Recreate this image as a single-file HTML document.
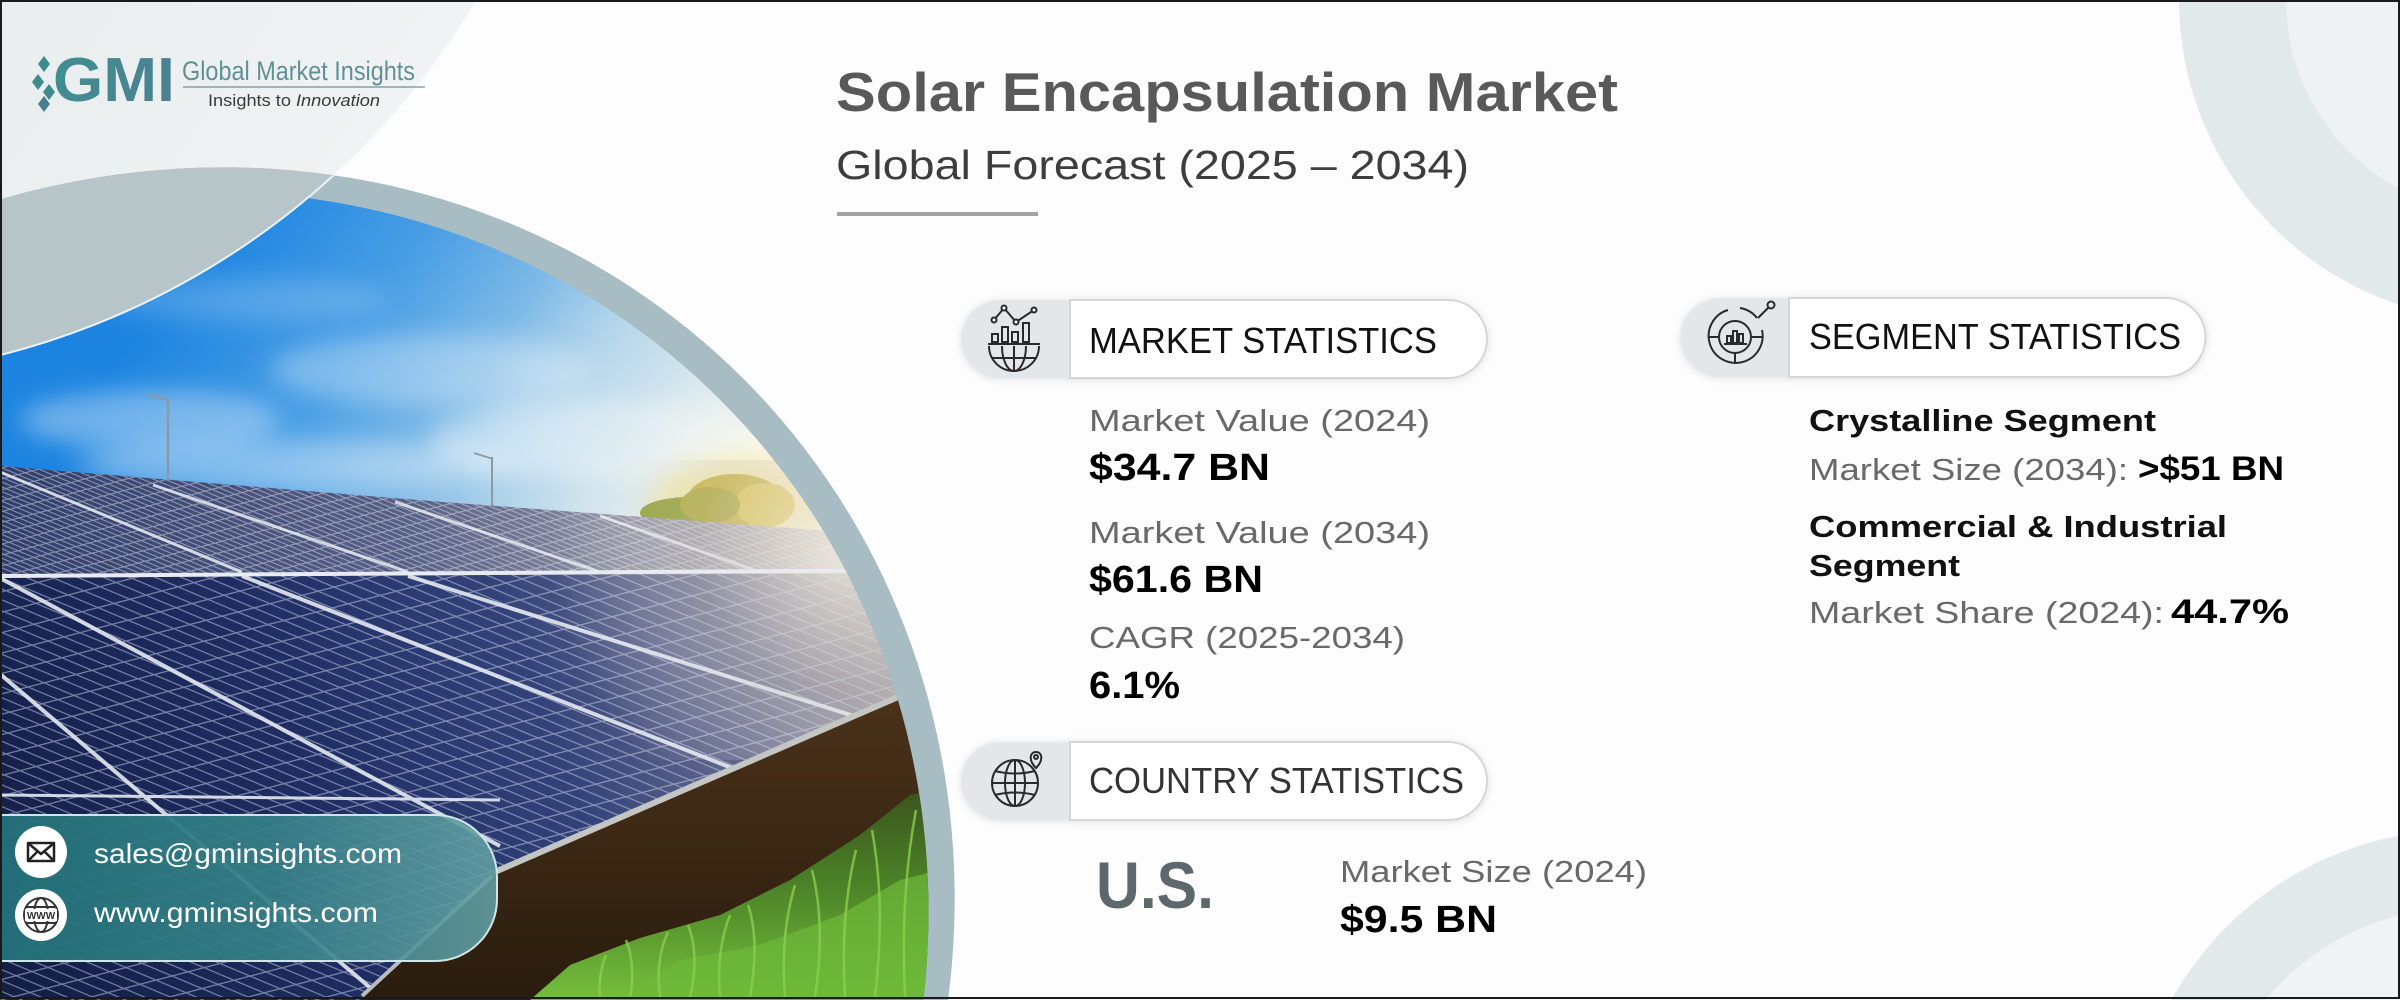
<!DOCTYPE html>
<html>
<head>
<meta charset="utf-8">
<style>
html,body{margin:0;padding:0;background:#fff;width:2400px;height:1000px;overflow:hidden;}
svg{display:block;overflow:hidden;}
</style>
</head>
<body>
<svg width="2400" height="1000" viewBox="0 0 2400 1000" xmlns="http://www.w3.org/2000/svg" font-family="'Liberation Sans', Arial, sans-serif">
<defs>
  <clipPath id="cOuter"><ellipse cx="172" cy="950" rx="808" ry="756.5" transform="rotate(-45 172 950)"/></clipPath>
  <clipPath id="cInner"><ellipse cx="158" cy="962" rx="795" ry="745" transform="rotate(-45 158 962)"/></clipPath>
  <clipPath id="cTL"><circle cx="-191" cy="-398" r="777"/></clipPath>
  <clipPath id="cTR1"><circle cx="2500" cy="0" r="321"/></clipPath>
  <clipPath id="cTR2"><circle cx="2500" cy="0" r="214"/></clipPath>
  <clipPath id="cBR1"><circle cx="2460" cy="1160" r="330"/></clipPath>
  <clipPath id="cBR2"><circle cx="2460" cy="1160" r="252"/></clipPath>
  <clipPath id="cFar"><polygon points="0,466 430,501 830,531 960,543 960,573 0,577"/></clipPath>
  <clipPath id="cNear"><polygon points="0,577 960,573 960,690 905,694 497,871 360,1000 0,1000"/></clipPath>
  <linearGradient id="gSky" gradientUnits="userSpaceOnUse" x1="250" y1="170" x2="760" y2="520">
    <stop offset="0" stop-color="#1c84e0"/>
    <stop offset="0.3" stop-color="#4a9fe5"/>
    <stop offset="0.62" stop-color="#a2cce8"/>
    <stop offset="1" stop-color="#eef2ee"/>
  </linearGradient>
  <radialGradient id="gSun" gradientUnits="userSpaceOnUse" cx="835" cy="525" r="380">
    <stop offset="0" stop-color="#fffdf0" stop-opacity="1"/>
    <stop offset="0.25" stop-color="#fbf8ea" stop-opacity="0.9"/>
    <stop offset="0.6" stop-color="#eef3f2" stop-opacity="0.35"/>
    <stop offset="1" stop-color="#ffffff" stop-opacity="0"/>
  </radialGradient>
  <radialGradient id="gGlare" gradientUnits="userSpaceOnUse" cx="850" cy="545" r="300">
    <stop offset="0" stop-color="#f3eee2" stop-opacity="0.85"/>
    <stop offset="0.5" stop-color="#d9d3cc" stop-opacity="0.35"/>
    <stop offset="1" stop-color="#ffffff" stop-opacity="0"/>
  </radialGradient>
  <linearGradient id="gNear" gradientUnits="userSpaceOnUse" x1="0" y1="900" x2="900" y2="560">
    <stop offset="0" stop-color="#141f48"/>
    <stop offset="0.35" stop-color="#1f2d63"/>
    <stop offset="0.6" stop-color="#33437a"/>
    <stop offset="0.8" stop-color="#6c6f8e"/>
    <stop offset="1" stop-color="#b3aaa6"/>
  </linearGradient>
  <linearGradient id="gFar" gradientUnits="userSpaceOnUse" x1="0" y1="0" x2="900" y2="0">
    <stop offset="0" stop-color="#2f3d6b"/>
    <stop offset="0.45" stop-color="#565f86"/>
    <stop offset="0.8" stop-color="#a19ea6"/>
    <stop offset="1" stop-color="#d6ccbc"/>
  </linearGradient>
  <linearGradient id="gGround" gradientUnits="userSpaceOnUse" x1="0" y1="700" x2="0" y2="1000">
    <stop offset="0" stop-color="#4a3219"/>
    <stop offset="1" stop-color="#2a1c0e"/>
  </linearGradient>
  <linearGradient id="gGrass" gradientUnits="userSpaceOnUse" x1="0" y1="780" x2="0" y2="1000">
    <stop offset="0" stop-color="#3a4f1c"/>
    <stop offset="0.45" stop-color="#4a7f26"/>
    <stop offset="1" stop-color="#74bf3c"/>
  </linearGradient>
  <linearGradient id="gBox" gradientUnits="userSpaceOnUse" x1="0" y1="0" x2="497" y2="0">
    <stop offset="0" stop-color="#226f78" stop-opacity="0.97"/>
    <stop offset="0.55" stop-color="#357f87" stop-opacity="0.93"/>
    <stop offset="1" stop-color="#63a0a4" stop-opacity="0.88"/>
  </linearGradient>
  <linearGradient id="gTL" gradientUnits="userSpaceOnUse" x1="0" y1="0" x2="450" y2="300">
    <stop offset="0" stop-color="#e9edee"/>
    <stop offset="1" stop-color="#f3f5f5"/>
  </linearGradient>
  <linearGradient id="gGMI" gradientUnits="userSpaceOnUse" x1="50" y1="55" x2="180" y2="105">
    <stop offset="0" stop-color="#3f8f91"/>
    <stop offset="1" stop-color="#4d7f92"/>
  </linearGradient>
  <pattern id="pNear" width="30" height="16" patternUnits="userSpaceOnUse" patternTransform="matrix(1,0.42,-1,0.26,0,0)">
    <path d="M0,1 H30 M1,0 V16" stroke="#cdd6ee" stroke-width="2" fill="none"/>
  </pattern>
  <pattern id="pFar" width="16" height="7" patternUnits="userSpaceOnUse" patternTransform="matrix(1,0.42,-1,0.26,0,0)">
    <path d="M0,0.8 H16 M0.8,0 V7" stroke="#e4e8f2" stroke-width="1.6" fill="none"/>
  </pattern>
  <filter id="blur12" x="-50%" y="-50%" width="200%" height="200%"><feGaussianBlur stdDeviation="12"/></filter>
  <filter id="sh" x="-10%" y="-40%" width="120%" height="180%"><feDropShadow dx="0" dy="1" stdDeviation="4" flood-color="#000" flood-opacity="0.12"/></filter>
</defs>

<!-- background -->
<rect x="0" y="0" width="2400" height="1000" fill="#fdfdfd"/>
<rect x="0" y="0" width="600" height="400" fill="url(#gTL)" clip-path="url(#cTL)"/>

<!-- right decorative rings -->
<rect x="2150" y="0" width="250" height="330" fill="#e2e9eb" clip-path="url(#cTR1)"/>
<rect x="2250" y="0" width="150" height="220" fill="#eef2f3" clip-path="url(#cTR2)"/>
<rect x="2100" y="800" width="300" height="200" fill="#e2e9eb" clip-path="url(#cBR1)"/>
<rect x="2180" y="880" width="220" height="120" fill="#f1f4f5" clip-path="url(#cBR2)"/>

<!-- photo ring -->
<rect x="0" y="100" width="1000" height="900" fill="#a7bdc3" clip-path="url(#cOuter)"/>

<!-- photo -->
<g clip-path="url(#cInner)">
  <rect x="0" y="150" width="980" height="430" fill="url(#gSky)"/>
  <g filter="url(#blur12)" fill="#ffffff">
    <ellipse cx="150" cy="420" rx="130" ry="30" opacity="0.35"/>
    <ellipse cx="430" cy="370" rx="160" ry="35" opacity="0.3"/>
    <ellipse cx="600" cy="440" rx="170" ry="40" opacity="0.4"/>
    <ellipse cx="300" cy="465" rx="220" ry="25" opacity="0.35"/>
    <ellipse cx="250" cy="300" rx="140" ry="22" opacity="0.18"/>
  </g>
  <rect x="0" y="150" width="980" height="430" fill="url(#gSun)"/>
  <!-- lamps -->
  <g stroke="#8d9aa6" fill="none">
    <line x1="168" y1="398" x2="168" y2="484" stroke-width="2.5"/>
    <line x1="148" y1="394" x2="169" y2="401" stroke-width="2"/>
    <line x1="492" y1="457" x2="492" y2="508" stroke-width="2"/>
    <line x1="474" y1="453" x2="493" y2="459" stroke-width="1.8"/>
  </g>
  <!-- tree -->
  <ellipse cx="740" cy="505" rx="90" ry="45" fill="#f6e270" opacity="0.55" filter="url(#blur12)"/>
  <ellipse cx="690" cy="513" rx="50" ry="16" fill="#8c9a2a"/>
  <ellipse cx="735" cy="500" rx="48" ry="26" fill="#c6b233"/>
  <ellipse cx="765" cy="505" rx="30" ry="22" fill="#dcc640"/>
  <ellipse cx="710" cy="505" rx="30" ry="18" fill="#a9a52e"/>

  <!-- far panel row -->
  <g clip-path="url(#cFar)">
    <rect x="0" y="460" width="980" height="120" fill="url(#gFar)"/>
    <rect x="0" y="460" width="980" height="120" fill="url(#pFar)" opacity="0.5"/>
    <g stroke="#e9ecf2" stroke-width="3" opacity="0.85">
      <line x1="0" y1="472" x2="242" y2="572"/>
      <line x1="153" y1="485" x2="408" y2="572"/>
      <line x1="395" y1="502" x2="600" y2="572"/>
      <line x1="600" y1="516" x2="760" y2="572"/>
    </g>
  </g>
  <!-- near panel row -->
  <g clip-path="url(#cNear)">
    <rect x="0" y="560" width="980" height="440" fill="url(#gNear)"/>
    <rect x="0" y="560" width="980" height="440" fill="url(#pNear)" opacity="0.5"/>
    <g stroke="#e6eaf2" stroke-width="4" opacity="0.9">
      <line x1="0" y1="578" x2="500" y2="846"/>
      <line x1="242" y1="576" x2="732" y2="768"/>
      <line x1="408" y1="576" x2="854" y2="716"/>
      <line x1="0" y1="674" x2="380" y2="996"/>
      <line x1="0" y1="795" x2="500" y2="800" stroke-width="3"/>
    </g>
  </g>
  <rect x="0" y="460" width="980" height="300" fill="url(#gGlare)"/>
  <!-- divider -->
  <line x1="0" y1="576" x2="960" y2="570" stroke="#e8ebf0" stroke-width="4"/>
  <!-- ground -->
  <polygon points="497,871 905,694 980,690 980,1000 360,1000" fill="url(#gGround)"/>
  <polygon points="530,1000 570,965 640,938 720,915 790,880 860,835 910,795 980,780 980,1000" fill="url(#gGrass)"/>
  <polygon points="620,1000 680,960 760,945 840,915 900,880 980,860 980,1000" fill="#6cb83a" opacity="0.75"/>
  <g stroke="#8bcf4e" stroke-width="2.5" fill="none" opacity="0.8">
    <path d="M600,997 Q598,975 606,955"/>
    <path d="M630,997 Q636,965 626,940"/>
    <path d="M660,997 Q655,960 668,932"/>
    <path d="M690,997 Q700,955 688,925"/>
    <path d="M720,997 Q716,950 730,915"/>
    <path d="M750,997 Q760,940 748,905"/>
    <path d="M785,997 Q780,935 795,885"/>
    <path d="M815,997 Q826,925 812,870"/>
    <path d="M845,997 Q840,915 856,850"/>
    <path d="M875,997 Q886,905 872,830"/>
    <path d="M905,997 Q900,895 916,810"/>
    <path d="M930,997 Q938,885 926,795"/>
  </g>
  <!-- panel front frame -->
  <line x1="497" y1="871" x2="905" y2="694" stroke="#c3c6c2" stroke-width="6"/>
  <line x1="492" y1="876" x2="362" y2="996" stroke="#b9bdc0" stroke-width="4"/>
</g>

<!-- crescent -->
<g clip-path="url(#cOuter)">
  <rect x="0" y="100" width="600" height="300" fill="#b7c4c8" clip-path="url(#cTL)"/>
</g>
<g clip-path="url(#cOuter)">
  <circle cx="-191" cy="-398" r="777" fill="none" stroke="#e6f3fa" stroke-width="2"/>
</g>

<!-- contact box -->
<path d="M0,815 H435 A62,62 0 0 1 497,877 V899 A62,62 0 0 1 435,961 H0 Z" fill="url(#gBox)" stroke="#cfe5e7" stroke-width="2"/>
<circle cx="41" cy="852" r="26" fill="#ffffff"/>
<g stroke="#222" stroke-width="2.5" fill="none" stroke-linejoin="round">
  <rect x="28" y="843" width="26" height="18"/>
  <polyline points="28,843 41,854 54,843"/>
  <line x1="28" y1="861" x2="37" y2="852"/>
  <line x1="54" y1="861" x2="45" y2="852"/>
</g>
<circle cx="41" cy="915" r="26" fill="#ffffff"/>
<g stroke="#333" stroke-width="2" fill="none">
  <circle cx="41" cy="915" r="17"/>
  <ellipse cx="41" cy="915" rx="7" ry="17"/>
  <line x1="26" y1="907" x2="56" y2="907"/>
  <line x1="26" y1="923" x2="56" y2="923"/>
</g>
<rect x="25" y="909" width="32" height="12" fill="#fff"/>
<text x="41" y="919" font-size="10" font-weight="bold" text-anchor="middle" fill="#333">WWW</text>
<text x="94" y="863" font-size="28" fill="#ffffff" textLength="308" lengthAdjust="spacingAndGlyphs">sales@gminsights.com</text>
<text x="94" y="922" font-size="28" fill="#ffffff" textLength="284" lengthAdjust="spacingAndGlyphs">www.gminsights.com</text>

<!-- logo -->
<g fill="#3e8b8e">
  <polygon points="44,56 50,64 44,72 38,64"/>
  <polygon points="38,74 44,82 38,90 32,82"/>
  <polygon points="49,84 55,92 49,100 43,92"/>
  <polygon points="44,96 50,104 44,112 38,104" fill="#4a7e8e"/>
</g>
<text x="53" y="101" font-size="62" font-weight="bold" fill="url(#gGMI)" textLength="122" lengthAdjust="spacingAndGlyphs">GMI</text>
<text x="182" y="80" font-size="27" fill="#5f9097" textLength="233" lengthAdjust="spacingAndGlyphs">Global Market Insights</text>
<line x1="183" y1="87" x2="425" y2="87" stroke="#7fa3a8" stroke-width="1.5"/>
<text x="208" y="106" font-size="17" fill="#3a3a3a" textLength="172" lengthAdjust="spacingAndGlyphs">Insights to <tspan font-style="italic">Innovation</tspan></text>

<!-- title -->
<text x="836" y="111" font-size="55" font-weight="bold" fill="#595959" textLength="782" lengthAdjust="spacingAndGlyphs">Solar Encapsulation Market</text>
<text x="836" y="179" font-size="41" fill="#3d3d3d" textLength="633" lengthAdjust="spacingAndGlyphs">Global Forecast (2025 – 2034)</text>
<rect x="837" y="212" width="201" height="4" fill="#a3a3a3"/>

<!-- MARKET STATISTICS pill -->
<g filter="url(#sh)">
  <path d="M1070,300 H1000 A39,39 0 0 0 1000,378 H1070 Z" fill="#e3e7e9"/>
  <path d="M1070,300 H1448 A39,39 0 0 1 1448,378 H1070 Z" fill="#ffffff" stroke="#d6d6d6" stroke-width="2"/>
</g>
<g stroke="#2a2a2a" stroke-width="2" fill="none">
  <polyline points="994,320 1004,308 1016,322 1034,310"/>
  <circle cx="994" cy="320" r="2.5" fill="#fff"/>
  <circle cx="1004" cy="308" r="2.5" fill="#fff"/>
  <circle cx="1016" cy="322" r="2.5" fill="#fff"/>
  <circle cx="1034" cy="310" r="2.5" fill="#fff"/>
  <rect x="992" y="334" width="6" height="8"/>
  <rect x="1002" y="327" width="6" height="15"/>
  <rect x="1012" y="332" width="6" height="10"/>
  <rect x="1023" y="323" width="6" height="19"/>
  <line x1="988" y1="344" x2="1040" y2="344"/>
  <path d="M989,346 A25,25 0 0 0 1039,346"/>
  <path d="M1002,346 A12,25 0 0 0 1026,346"/>
  <line x1="1014" y1="346" x2="1014" y2="371"/>
  <line x1="992" y1="358" x2="1036" y2="358"/>
</g>
<text x="1089" y="353" font-size="36" fill="#111" textLength="348" lengthAdjust="spacingAndGlyphs">MARKET STATISTICS</text>

<text x="1089" y="431" font-size="31" fill="#696969" textLength="341" lengthAdjust="spacingAndGlyphs">Market Value (2024)</text>
<text x="1089" y="480" font-size="38" font-weight="bold" fill="#000" textLength="181" lengthAdjust="spacingAndGlyphs">$34.7 BN</text>
<text x="1089" y="543" font-size="31" fill="#696969" textLength="341" lengthAdjust="spacingAndGlyphs">Market Value (2034)</text>
<text x="1089" y="592" font-size="38" font-weight="bold" fill="#000" textLength="174" lengthAdjust="spacingAndGlyphs">$61.6 BN</text>
<text x="1089" y="648" font-size="31" fill="#696969" textLength="316" lengthAdjust="spacingAndGlyphs">CAGR (2025-2034)</text>
<text x="1089" y="698" font-size="38" font-weight="bold" fill="#000" textLength="91" lengthAdjust="spacingAndGlyphs">6.1%</text>

<!-- COUNTRY STATISTICS pill -->
<g filter="url(#sh)">
  <path d="M1070,742 H1000 A39,39 0 0 0 1000,820 H1070 Z" fill="#e3e7e9"/>
  <path d="M1070,742 H1448 A39,39 0 0 1 1448,820 H1070 Z" fill="#ffffff" stroke="#d6d6d6" stroke-width="2"/>
</g>
<g stroke="#2a2a2a" stroke-width="2" fill="none">
  <circle cx="1015" cy="783" r="23"/>
  <ellipse cx="1015" cy="783" rx="10" ry="23"/>
  <line x1="1015" y1="760" x2="1015" y2="806"/>
  <line x1="992" y1="783" x2="1038" y2="783"/>
  <path d="M995,771 Q1015,776 1035,771"/>
  <path d="M995,795 Q1015,790 1035,795"/>
  <path d="M1036,768 C1028,760 1030,752 1036,752 C1042,752 1044,760 1036,768 Z" fill="#e3e7e9"/>
  <circle cx="1036" cy="757" r="2"/>
</g>
<text x="1089" y="793" font-size="36" fill="#333" textLength="375" lengthAdjust="spacingAndGlyphs">COUNTRY STATISTICS</text>

<text x="1096" y="908" font-size="66" font-weight="bold" fill="#5d686d" textLength="118" lengthAdjust="spacingAndGlyphs">U.S.</text>
<text x="1340" y="882" font-size="31" fill="#696969" textLength="307" lengthAdjust="spacingAndGlyphs">Market Size (2024)</text>
<text x="1340" y="932" font-size="38" font-weight="bold" fill="#000" textLength="157" lengthAdjust="spacingAndGlyphs">$9.5 BN</text>

<!-- SEGMENT STATISTICS pill -->
<g filter="url(#sh)">
  <path d="M1789,298 H1720 A39.5,39.5 0 0 0 1720,377 H1789 Z" fill="#e3e7e9"/>
  <path d="M1789,298 H2166 A39.5,39.5 0 0 1 2166,377 H1789 Z" fill="#ffffff" stroke="#d6d6d6" stroke-width="2"/>
</g>
<g stroke="#2a2a2a" stroke-width="2" fill="none">
  <path d="M1728,310 A27,27 0 1 0 1762,330"/>
  <path d="M1740,308 A27,27 0 0 1 1757,318"/>
  <circle cx="1735" cy="337" r="16"/>
  <line x1="1709" y1="337" x2="1719" y2="337"/>
  <line x1="1735" y1="353" x2="1735" y2="363"/>
  <line x1="1751" y1="337" x2="1762" y2="337"/>
  <rect x="1727" y="336" width="4" height="7"/>
  <rect x="1733" y="331" width="4" height="12"/>
  <rect x="1739" y="334" width="4" height="9"/>
  <line x1="1724" y1="344" x2="1747" y2="344"/>
  <line x1="1758" y1="318" x2="1768" y2="308"/>
  <circle cx="1771" cy="305" r="3.5"/>
</g>
<text x="1809" y="349" font-size="36" fill="#111" textLength="372" lengthAdjust="spacingAndGlyphs">SEGMENT STATISTICS</text>

<text x="1809" y="431" font-size="31" font-weight="bold" fill="#111" textLength="347" lengthAdjust="spacingAndGlyphs">Crystalline Segment</text>
<text x="1809" y="480" font-size="31" fill="#696969" textLength="319" lengthAdjust="spacingAndGlyphs">Market Size (2034):</text>
<text x="2138" y="480" font-size="34" font-weight="bold" fill="#000" textLength="146" lengthAdjust="spacingAndGlyphs">&gt;$51 BN</text>
<text x="1809" y="537" font-size="31" font-weight="bold" fill="#111" textLength="418" lengthAdjust="spacingAndGlyphs">Commercial &amp; Industrial</text>
<text x="1809" y="576" font-size="31" font-weight="bold" fill="#111" textLength="151" lengthAdjust="spacingAndGlyphs">Segment</text>
<text x="1809" y="623" font-size="31" fill="#696969" textLength="355" lengthAdjust="spacingAndGlyphs">Market Share (2024):</text>
<text x="2171" y="623" font-size="34" font-weight="bold" fill="#000" textLength="118" lengthAdjust="spacingAndGlyphs">44.7%</text>

<!-- frame border -->
<rect x="1" y="1" width="2398" height="997" fill="none" stroke="#1a1a1a" stroke-width="2"/>
</svg>
</body>
</html>
